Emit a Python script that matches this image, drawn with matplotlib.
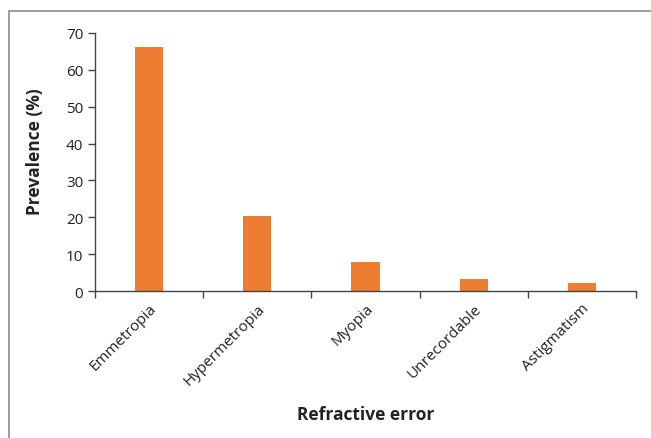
import matplotlib.pyplot as plt
from matplotlib.patches import Rectangle

categories = ['Emmetropia', 'Hypermetropia', 'Myopia', 'Unrecordable', 'Astigmatism']
prevalence = [66.3, 20.3, 7.9, 3.2, 2.3]

plt.rcParams['font.family'] = ['Open Sans', 'DejaVu Sans']

fig = plt.figure(figsize=(6.51, 4.39), dpi=100)
ax = fig.add_axes([95 / 651, 1 - 292 / 439, (636 - 95) / 651, (292 - 34) / 439])

# outer frame (only top and left visible in the original)
fig.patches.append(Rectangle((9 / 651, -0.1), 1.2, 1.1 - 12 / 439,
                             transform=fig.transFigure, fill=False,
                             edgecolor='#8c8c8c', linewidth=1.2))

x = list(range(len(categories)))
ax.bar(x, prevalence, width=0.26, color='#ED7D31')

ax.set_xlim(-0.5, len(categories) - 0.5)
ax.set_ylim(0, 70)
ax.set_yticks(range(0, 71, 10))
# boundary ticks between categories, labels centred under the bars
ax.set_xticks([i - 0.5 for i in range(len(categories) + 1)])
ax.set_xticklabels([''] * (len(categories) + 1))
ax.set_xticks(x, minor=True)
ax.set_xticklabels(categories, minor=True, rotation=45, ha='right',
                   rotation_mode='anchor', fontsize=11, color='#222222')
ax.tick_params(axis='x', which='minor', length=0, pad=7)
ax.tick_params(axis='x', which='major', length=5, width=1, color='#444444')
ax.tick_params(axis='y', length=5, width=1, color='#444444', labelsize=11,
               labelcolor='#222222')

for side in ['top', 'right']:
    ax.spines[side].set_visible(False)
for side in ['left', 'bottom']:
    ax.spines[side].set_color('#444444')
    ax.spines[side].set_linewidth(1)

ax.set_ylabel('Prevalence (%)', fontsize=12.5, fontweight='bold', color='#222222')
ax.yaxis.set_label_coords(-0.094, 0.545)
ax.set_xlabel('Refractive error', fontsize=12.5, fontweight='bold', labelpad=12,
              color='#222222')

fig.savefig('out.png', dpi=100)
